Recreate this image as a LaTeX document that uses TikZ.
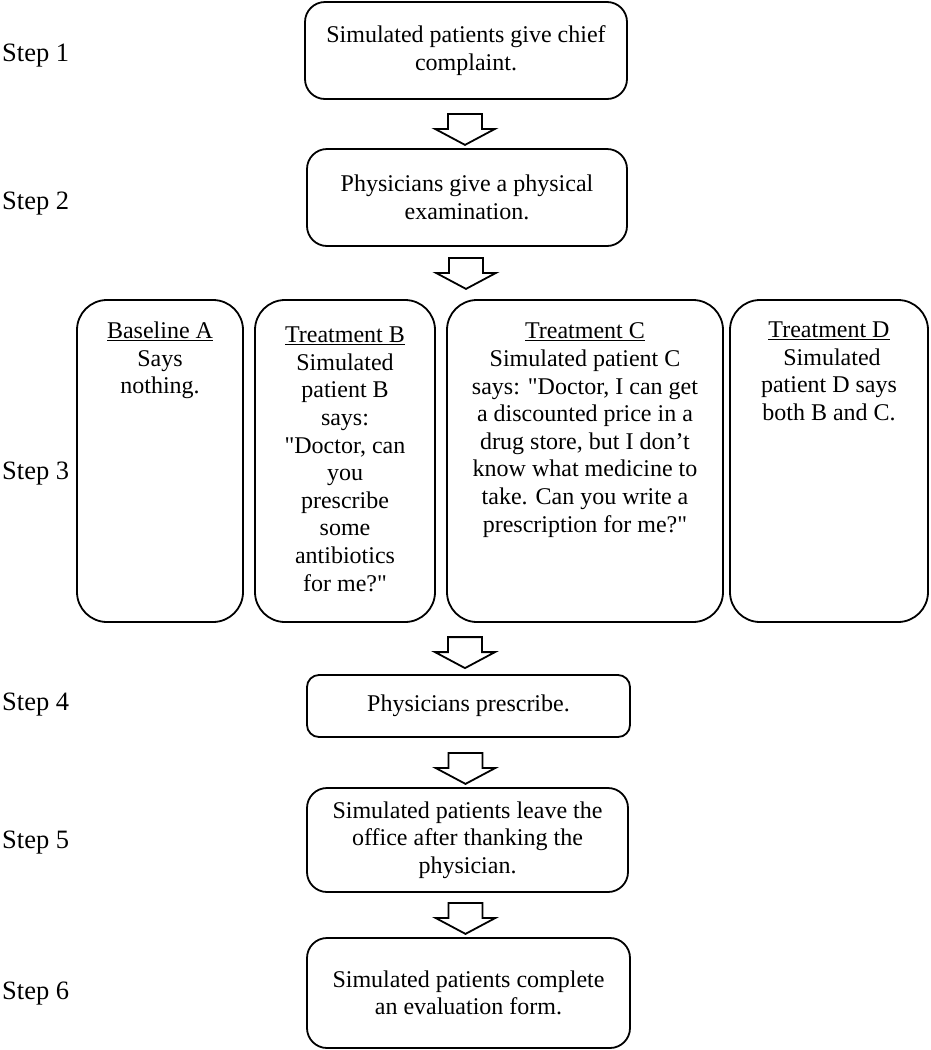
\documentclass[tikz,border=0pt]{standalone}
\usepackage{fontspec}
\setmainfont{Liberation Serif}[Ligatures=TeXOff]
\usetikzlibrary{arrows, positioning, calc}

\tikzset{
  stepbox/.style={draw, line width=1.8pt, rounded corners=20pt, align=center, inner sep=0pt},
  armbox/.style={draw, line width=1.8pt, rounded corners=30pt, inner sep=0pt},
  steplabel/.style={anchor=base west, inner sep=0pt, font=\fontsize{26.5}{30}\selectfont},
  hollow/.style={draw, line width=1.8pt, fill=white, line join=miter}
}
% text box of fixed size, text at the top
\newcommand{\armtext}[4]{\parbox[c][#2][t]{#1}{\centering\vspace*{#3}#4}}
% hollow arrow pointing down, #1 = top centre of the stem
\newcommand{\hollowdown}[1]{\draw[hollow] (#1) ++(-17,0) -- ++(0,15) -- ++(-13,0)
  -- ++(30,16) -- ++(30,-16) -- ++(-13,0) -- ++(0,-15) -- cycle;}

\begin{document}
\begin{tikzpicture}[x=1pt, y=-1pt, font=\fontsize{24}{27.6}\selectfont]
\useasboundingbox (0,0) rectangle (931,1050);
%step labels
\node[steplabel] (l1) at (2,61) {Step 1};
\node[steplabel] (l2) at (2,209) {Step 2};
\node[steplabel] (l3) at (2,479) {Step 3};
\node[steplabel] (l4) at (2,710) {Step 4};
\node[steplabel] (l5) at (2,848) {Step 5};
\node[steplabel] (l6) at (2,999) {Step 6};
%main boxes
\node[stepbox, minimum width=322pt, minimum height=97pt] (s1) at (466,50.5)
  {Simulated patients give chief\\complaint.};
\node[stepbox, minimum width=320pt, minimum height=97pt] (s2) at (467,197.5)
  {Physicians give a physical\\examination.};
%the four arms
\node[armbox] (sA) at (160,461)
  {\armtext{166pt}{322pt}{22pt}{\underline{Baseline A}\\Says\\nothing.}};
\node[armbox] (sB) at (345,461)
  {\armtext{180pt}{322pt}{27pt}{\underline{Treatment B}\\Simulated\\patient B\\says:\\"Doctor, can\\you\\prescribe\\some\\antibiotics\\for me?"}};
\node[armbox] (sC) at (585,461)
  {\armtext{276pt}{322pt}{23pt}{\underline{Treatment C}\\Simulated patient C\\says: "Doctor, I can get\\a discounted price in a\\drug store, but I don’t\\know what medicine to\\take. Can you write a\\prescription for me?"}};
\node[armbox] (sD) at (829,461)
  {\armtext{198pt}{322pt}{22pt}{\underline{Treatment D}\\\ Simulated\\patient D says\\both B and C.}};
%lower boxes
\node[stepbox, rounded corners=12pt, minimum width=323pt, minimum height=62pt] (s4) at (468.5,706)
  {Physicians prescribe.};
\node[stepbox, minimum width=321pt, minimum height=104pt] (s5) at (467.5,840)
  {Simulated patients leave the\\office after thanking the\\physician.};
\node[stepbox, minimum width=323pt, minimum height=110pt] (s6) at (468.5,993)
  {Simulated patients complete\\an evaluation form.};
%arrows in between
\path (s1.south) ++(-1,14) coordinate (a1);
\path (s2.south) ++(-1,11) coordinate (a2);
\path (s4.north) ++(-3.5,-37) coordinate (a3);
\path (s4.south) ++(-3,15) coordinate (a4);
\path (s5.south) ++(-2,10) coordinate (a5);
\hollowdown{a1}
\hollowdown{a2}
\hollowdown{a3}
\hollowdown{a4}
\hollowdown{a5}
\end{tikzpicture}
\end{document}
